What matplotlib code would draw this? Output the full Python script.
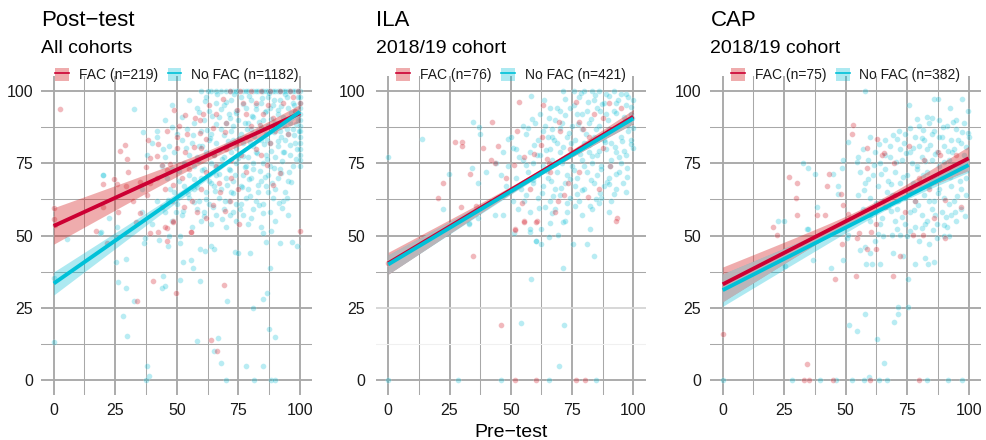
import numpy as np
import matplotlib
matplotlib.use("Agg")
import matplotlib.pyplot as plt
from matplotlib.patches import Patch
from matplotlib.lines import Line2D

plt.rcParams['font.family'] = ['Liberation Sans', 'DejaVu Sans']

# ---------------- data ----------------
panel_titles = ["Post\u2212test", "ILA", "CAP"]
panel_subtitles = ["All cohorts", "2018/19 cohort", "2018/19 cohort"]
fac_labels = ["FAC (n=219)", "FAC (n=76)", "FAC (n=75)"]
nofac_labels = ["No FAC (n=1182)", "No FAC (n=421)", "No FAC (n=382)"]
x_ticks = [0, 25, 50, 75, 100]
y_ticks = [0, 25, 50, 75, 100]

# regression fits: (y at x=0, y at x=100, CI half-width at x=0, min half-width, x of min)
post_fac_fit = (53.3, 92.3, 6.3, 1.6, 70)
post_nofac_fit = (33.4, 92.8, 4.0, 0.6, 78)
ila_fac_fit = (40.4, 91.1, 3.8, 1.0, 62)
ila_nofac_fit = (40.0, 90.5, 3.3, 0.6, 68)
cap_fac_fit = (33.1, 76.7, 6.0, 1.5, 60)
cap_nofac_fit = (31.1, 74.4, 5.6, 0.9, 70)

post_fac_pts = [
    (2.6,93.7),(49,93.4),(53.3,91.7),(57.4,90.5),(60.8,91.9),(59.4,90),(71.6,100),(75.6,100),(91.9,100),
    (84,100),(88,100),(68.9,97.2),(74.3,93.4),(38.4,83),(42.5,81.5),(29,81.3),(26.9,79.2),(29.9,76.5),
    (41.8,77.6),(39.1,76.9),(49.9,84.2),(50.2,80.4),(53.3,79),(57.1,80.5),(60,80.2),(64.8,87.1),(69.6,85.9),
    (59.4,85.4),(62,83.5),(37.5,73.8),(43.8,74.4),(47.2,74.6),(45.8,72.5),(24.5,69.6),(25.8,67.8),(20.2,67.8),
    (29.4,67.2),(35,68.6),(39.1,68),(45.2,66.1),(48.6,67.5),(0,59.6),(0,55.7),(0.5,53.5),(48.6,55),(55.8,51.3),
    (45.9,52.7),(42.5,51.3),(35,57.9),(33.6,54.8),(67.5,65.2),(69.6,58.5),(64.8,60.6),(71.6,61.9),(86.5,74.4),
    (91.9,71.5),(89,67.5),(100,51.7),(89,90.5),(83.6,88.2),(17.2,51.7),(21.8,47.5),(39.1,50.7),(45.3,52.8),
    (45.9,48.2),(48.6,54.8),(55.6,51.1),(75.4,53.9),(40.2,34.3),(49.5,30),(33.9,27.5),(69.1,32.8),(64,13.7),
    (66.4,10),(52,70),(55,73),(58,76),(62,72),(65,78),(66,74),(70,80),(72,76),(74,82),(76,78),(78,84),(80,88),
    (82,80),(85,92),(87,95),(90,86),(93,96),(95,90),(97,98),(99,100),(80,100),(77,96),(63,95),(66,92),(70,89),
    (72,70),(75,66),(78,72),(56,62),(60,66),(53,60),(62,56),(58,58),(48,62),(44,60),(67,68),(84,78),(88,82),
    (95,85),(98,93),(100,96),(96,100),(78,92),(82,96),(54,85),(51,88),(46,86),(32,62),(38,64),(26,58),(30,72),
    (20,60),(42,70)]

post_nofac_pts = [
    (0,13.1),(0,35.2),(5.3,48.7),(18.8,50.9),(25.6,52.8),(25.2,40.7),(26.3,33.8),(29.4,41.8),(29.5,32),
    (28.3,22.1),(29.9,15.3),(32.8,27.5),(36.5,47.3),(37,49),(37.9,5),(38.6,1.3),(37.5,0),(42.9,48.4),(44.5,36),
    (44.1,31.9),(45,32.5),(46.3,46.5),(46.9,50),(51.2,50),(51.4,47.3),(51.2,34.5),(52.3,40.7),(55.6,41.5),
    (56.7,38.7),(58,13.5),(59.3,45.3),(59.6,34.2),(61.3,44.7),(63.9,46.5),(65.1,45.4),(66.9,14.5),(65.1,9.9),
    (67.8,6),(70,0),(70.2,27.5),(73.5,44.2),(75,43.8),(79.6,43.8),(78.2,5),(81.3,0),(81,25),(84.8,28.2),
    (84.9,5),(86.5,30),(87.4,17.5),(88.2,0),(89.8,0),(90,14.9),(86,47.8),(84.9,50.7),(88.2,51.5),(88,38.7),
    (91.8,47.3),(96.9,47.7),(98.7,46.4),(32.7,93.7),(36.4,85.9),(42.1,84.2),(20.2,70.9),(19.1,51.3),
    (60,100),(64,100),(68,100),(70,100),(73,100),(75,100),(77,100),(79,100),(81,100),(83,100),(85,100),(86,100),
    (88,100),(90,100),(91,100),(93,100),(95,100),(96,100),(98,100),(100,100),
    (62.5,100),(66,100),(71.5,100),(74,100),(78,100),(82,100),(84.5,100),(87,100),(89,100),(92,100),(94,100),
    (97,100),(99,100),
    (100,98),(100,96),(100,94),(100,92),(100,90),(100,88),(100,86),(100,84),(100,82),(100,80),(100,78),(100,76),(100,74),
    (55,97),(62,98),(66,96),(72,97),(76,98),(80,97),(84,96),(87,98),(92,97),(94,99),(97,96),(99,98),(89,95),
    (48,95),(58,94),(63,93),(69,95),(74,93),(78,94),(82,95),(86,93),(88,94),(91,92),(95,94),(98,93),(71,92),
    (45,90),(52,91),(57,89),(61,90),(67,91),(70,89),(75,90),(79,89),(81,91),(85,90),(90,89),(93,91),(96,89),(99,90),(87,88),
    (42,86),(50,85),(54,87),(60,86),(64,85),(68,87),(72,86),(76,85),(80,87),(83,86),(86,85),(89,87),(92,86),(95,85),(97,87),
    (40,82),(47,81),(52,83),(56,82),(59,81),(63,83),(66,82),(70,81),(73,83),(77,82),(81,81),(84,83),(88,82),(91,81),(94,83),(98,82),
    (38,78),(45,77),(49,79),(55,78),(58,77),(62,79),(65,78),(69,77),(72,79),(75,78),(79,77),(82,79),(86,78),(90,77),(93,79),(96,78),
    (44,74),(48,73),(53,75),(57,74),(61,73),(64,75),(67,74),(71,73),(74,75),(78,74),(81,73),(85,75),(88,74),(92,73),(97,74),
    (20,71),(46,70),(51,69),(55,71),(60,70),(63,69),(66,71),(70,70),(73,69),(77,71),(80,70),(84,69),(87,71),(91,70),(95,69),
    (36,66),(49,65),(53,67),(57,66),(62,65),(65,67),(68,66),(72,65),(76,67),(79,66),(83,65),(86,67),(90,66),(94,65),
    (42,62),(50,61),(55,63),(59,62),(63,61),(67,63),(71,62),(74,61),(78,63),(82,62),(85,61),(89,63),(93,62),
    (35.7,58.2),(45,58),(52,57),(58,59),(61,58),(66,57),(69,59),(73,58),(77,57),(81,59),(88,58),(95,57),
    (22.6,55.9),(40,54),(48,55),(56,53),(60,55),(64,54),(70,53),(74,55),(79,54),(84,53),(90,55),
    (66.5,98.8),(69.8,96.3),(73.2,99.1),(76.7,95.6),(79.4,98.4),(82.1,93.9),(84.7,97.5),(87.3,99.4),(89.6,96.7),
    (92.4,94.8),(94.8,97.9),(97.6,95.2),(99.3,91.7),
    (64.2,91.2),(67.9,93.8),(71.5,90.6),(74.1,92.4),(77.8,88.9),(80.6,91.5),(83.3,89.2),(85.9,92.8),(88.4,90.3),
    (91.1,93.5),(93.7,88.1),(96.2,92.3),(98.4,88.6),
    (62.3,86.4),(65.8,88.7),(69.1,84.9),(72.7,87.8),(75.4,83.6),(78.3,86.9),(81.2,84.3),(84.1,87.4),(86.8,83.1),
    (89.5,85.8),(92.3,84.1),(94.9,86.9),(97.7,84.6),(99.6,86.2),
    (60.4,80.9),(63.6,83.8),(67.3,79.6),(70.8,82.7),(74.2,80.1),(76.9,77.4),(79.8,82.3),(82.6,78.6),(85.4,81.7),
    (88.1,79.2),(90.9,82.8),(93.4,78.9),(96.1,81.4),(98.9,79.8),
    (58.6,75.8),(61.9,77.9),(65.3,74.1),(68.4,76.5),(71.7,72.6),(74.8,76.9),(77.6,73.8),(80.9,75.2),(83.8,72.4),
    (86.5,76.3),(89.3,73.5),(92.6,75.8),(95.4,72.1),(98.2,76.6),
    (56.8,69.5),(60.2,72.8),(63.7,68.3),(67.1,71.4),(70.3,67.6),(73.6,70.8),(76.4,66.9),(79.2,69.7),(82.9,67.3),
    (85.7,70.2),(88.8,68.1),(92.1,71.6),(96.3,68.4),
    (54.7,64.2),(58.3,66.8),(61.8,62.7),(65.6,65.4),(69.4,61.8),(72.9,64.6),(76.1,60.9),(79.7,63.8),(83.4,60.4),
    (87.2,64.9),(91.6,61.3),(94.7,63.1),
    (52.6,58.6),(57.1,61.5),(60.9,56.8),(64.8,59.7),(68.2,55.6),(71.6,57.2),(75.8,59.3),(80.3,56.1),(85.1,57.8),
    (92.7,59.6),(47.3,66.1),(50.8,72.4),(53.9,80.1),(56.4,84.6),(59.1,92.7),(61.5,96.4),(47.9,87.6),(44.3,79.8),
    (46.4,62.2),(49.6,58.3)]

ila_fac_pts = [
    (53.3,96.3),(63.3,95.2),(76.5,96.3),(69.8,89.4),(70,86),(42.4,89.4),(27.2,82.2),(30.2,82.2),(30.2,81.1),
    (38.8,80.2),(44.9,81.1),(52.7,86.2),(41.9,76.1),(43.5,75),(33.3,71.2),(22.2,68),(20.3,63.1),(29.5,60),
    (35.6,60.3),(51.4,74.4),(54.4,61.1),(55.4,77.3),(59.6,78.1),(62.2,81.3),(51.7,52.1),(60.5,55),(55.4,55),
    (64.6,76.5),(65.5,75),(69.3,61.9),(73.2,68),(71.7,64),(77.8,71.9),(81.6,63.4),(90.5,74.2),(93.2,55.9),
    (87.5,80.2),(87.7,90.5),(62.6,84.2),(77.8,89.4),(79.5,87),(34.7,43),(45.9,18.9),(51.7,51.9),(51.6,0),
    (60.2,0),(76.6,0),(80.4,0),(55.5,54.8),(60.3,54.8),(0,40.4),(92.8,55),(84,92),(90,96),(95,94),(66,72),
    (74,80),(82,84),(58,66),(48,70),(68,58),(86,66)]

ila_nofac_pts = [
    (0,77.3),(13.6,83.3),(34.7,89.2),(37,87.5),(37.6,85),(24.9,71.2),(22.4,59.2),(34.3,73.2),(36.5,68),
    (58.2,98.3),(63.7,96.9),(71.4,100),(75.9,100),(72.1,97.1),(49,83.3),(50.7,80.2),(53.3,77.2),(57.1,87.1),
    (58.5,90.2),(33.1,54.2),(36.7,55.9),(43.5,57.1),(46.9,57.1),(57.8,51.3),(60.3,48.2),(66.7,57.7),(65.7,49.6),
    (71.4,54.8),(76.2,60.3),(82.3,60.2),(86,61.1),(83,59.2),(89.1,68.6),(92.8,71.2),(97.3,70.4),(96.9,65.2),
    (100,80.2),(100,87.1),
    (0,0),(28.3,0),(46.1,0),(65.7,0),(84.6,0),(54.3,19.9),(71.9,18.9),(69.7,5),(58.2,34.9),(71.2,38.9),
    (84.1,43),(81,47.1),(75.4,47.1),(60.2,48),(62.3,47.1),(69.3,50.1),(82.4,52.3),(57.9,52.3),(62.3,52.3),
    (51.3,50.7),(66.1,54.2),(32.9,54),(72.2,55),
    (80,100),(83,100),(86,100),(89,99),(92,100),(95,99),(98,98),(100,97),(78,98),(84,97),(88,96),(93,96),(97,95),
    (62,92),(66,94),(70,93),(74,94),(77,92),(81,93),(85,94),(89,92),(92,93),(96,91),(99,92),(68,90),
    (55,88),(60,89),(64,88),(67,87),(71,89),(75,88),(79,87),(82,89),(86,88),(90,87),(94,88),(98,86),
    (50,84),(56,85),(61,83),(65,84),(69,82),(73,84),(76,83),(80,82),(84,84),(88,83),(91,82),(95,84),(99,83),
    (47,79),(52,80),(58,79),(62,78),(66,80),(70,79),(74,78),(78,80),(82,79),(85,78),(89,80),(93,79),(97,78),
    (44,75),(49,74),(55,76),(59,75),(63,74),(67,76),(71,75),(75,74),(79,76),(83,75),(87,74),(91,76),(95,75),
    (40,72),(46,71),(52,70),(57,72),(61,71),(65,70),(69,72),(73,71),(77,70),(81,72),(85,71),(90,70),(94,72),
    (48,67),(54,66),(59,68),(63,67),(68,66),(72,68),(76,67),(80,66),(84,68),(88,67),(93,66),
    (45,63),(51,62),(56,64),(61,63),(66,62),(70,64),(74,63),(78,62),(87,63),(91,62),
    (53,59),(58,58),(64,60),(68,59),(73,58),(79,57),(90,58),
    (78.6,99.2),(81.4,96.1),(84.3,98.7),(87.1,95.4),(90.2,98.3),(93.6,96.8),(96.8,99.1),(99.2,94.6),
    (65.4,90.8),(68.7,94.2),(72.3,91.6),(75.8,95.3),(79.1,92.1),(82.7,90.4),(86.2,92.9),(89.8,90.1),(93.1,92.4),
    (96.4,89.6),(99.4,90.7),
    (63.1,86.3),(66.8,84.1),(70.2,87.2),(73.9,85.6),(77.4,88.4),(80.8,85.1),(84.6,86.7),(87.9,84.6),(91.7,86.1),
    (95.2,82.7),(97.9,87.9),
    (59.6,81.4),(64.2,79.6),(67.5,82.9),(71.1,80.6),(74.6,81.9),(78.3,78.1),(81.9,81.2),(85.8,79.4),(88.6,82.3),
    (92.4,80.5),(96.1,79.1),(99.1,81.6),
    (56.3,74.4),(60.7,77.8),(64.6,72.3),(68.1,74.8),(72.5,77.1),(75.9,72.6),(79.8,74.2),(83.2,77.6),(86.9,72.9),
    (90.6,74.1),(94.1,77.3),(97.6,73.4),
    (58.9,69.2),(62.8,64.6),(66.4,68.7),(70.6,66.3),(74.3,69.6),(78.9,65.7),(82.6,69.1),(86.3,64.8),(90.1,67.9),
    (95.6,68.2),(55.2,61.8),(61.4,59.4),(67.2,63.8),(72.8,61.2),(77.1,64.3),(84.8,62.7),(92.2,64.5)]

cap_fac_pts = [
    (53.1,88.2),(52.4,85.1),(62.6,83.4),(58.5,80.4),(64.6,77.9),(65.5,78.5),(69.6,75.2),(75.7,81.1),(58.5,73.2),
    (27.1,70.1),(30.1,68),(29.7,63.1),(30.1,57.1),(42.5,67.2),(43.4,71.2),(48.1,64.2),(49,60.5),(20.3,53.1),
    (21.9,50.1),(38.5,57.1),(41.6,57.1),(51.1,57.3),(90.4,62.2),(96.7,60),(87.7,79),(88.5,77.8),(0,15.9),
    (34.4,5.7),(33,0),(35.2,0),(44.7,0),(60,0),(79.9,0),(45.6,34.9),(54,36.1),(48.6,47.1),(54.6,49),(55.5,51),
    (60.3,51.1),(62.4,54),(62.4,45.4),(58.6,45.4),(69.4,36.1),(72,43),(81.6,50.1),(90.4,49),(77.4,50.1),
    (80,70),(84,66),(92,73),(95,78),(70,64),(74,58),(66,60),(86,56),(78,62),(82,76)]

cap_nofac_pts = [
    (0,0),(28.2,0),(39.6,0),(46,0),(52.7,0),(57.5,0),(59.5,1),(63.6,0),(66.7,0),(83,0),(91.4,0),(97.2,0),
    (65.4,5.8),(62.6,14.1),(54.6,17),(51.2,19),(57.9,23),(69.8,20),(71.2,23),(71.2,25.2),(75.4,25.2),
    (75.3,34.9),(69.3,44.1),(73.1,43),(78.2,40.1),(83.3,40),(86,41),(82.2,42.1),(36.7,41.5),(43.9,38.7),
    (49,41.5),(58.4,40.1),(60.8,40.1),(63.8,40.1),(25.5,39.4),(34.4,52.2),(24.9,55),(50.6,49),(51.1,50.1),
    (68.8,50.1),(72,50.1),(75,50),(80,48),(84,47),(87,49),(90,50),(92,50),(65,50),(62,48),(58,46),(60,44),(56,45),
    (57.9,100),(75.6,95.2),(85.9,97.2),(87.5,97.2),(97.2,97.2),(32.5,75),(34.6,73.2),(37.5,71.2),(44.7,71.2),
    (48.4,73.2),(49.1,76.1),(51.1,82.5),(54.5,75.3),(71.8,86.2),(70.7,83.4),(78.9,90.3),(82.9,91.1),(92.4,94),
    (99.9,93.1),(99.9,85.4),(95,90),(22.6,55),(34.5,52.2),(38.5,60),(47,67.2),(47,64.3),
    (80,88),(84,89),(88,90),(91,88),(95,87),(98,89),(86,86),
    (60,84),(66,83),(74,85),(78,84),(82,83),(85,85),(89,84),(93,83),(97,82),(100,84),
    (57,80),(62,79),(68,81),(72,80),(76,79),(80,81),(83,80),(87,79),(90,81),(94,80),(98,78),
    (55,77),(59,76),(64,75),(68,77),(73,76),(77,75),(81,77),(85,76),(88,74),(92,76),(96,75),
    (56,72),(61,71),(66,73),(70,72),(75,71),(79,73),(83,72),(86,70),(91,71),(95,72),(99,70),
    (58,68),(63,67),(67,69),(72,68),(76,66),(80,68),(84,67),(88,66),(93,67),(97,66),
    (55,64),(60,63),(65,62),(69,64),(74,63),(78,62),(82,64),(86,62),(90,63),(94,62),(99,64),
    (57,59),(62,58),(67,60),(71,59),(76,58),(81,57),(85,59),(89,58),(93,57),(97,59),
    (60,55),(64,54),(70,55),(74,54),(78,53),(83,55),(87,54),(91,53),(95,55),
    (76.3,87.1),(81.6,86.4),(85.2,90.8),(89.4,87.6),(93.8,89.4),(97.1,85.8),
    (63.4,81.6),(69.2,84.7),(73.6,82.1),(77.2,80.4),(80.9,83.6),(84.4,81.2),(87.8,83.9),(91.6,79.4),(95.8,82.9),
    (99.1,80.6),(61.7,74.3),(66.1,77.8),(70.4,75.4),(74.7,78.6),(78.8,74.2),(82.3,75.9),(86.4,78.2),(89.9,75.3),
    (93.2,78.8),(97.4,73.8),(59.2,69.6),(64.3,71.4),(68.6,67.7),(73.1,70.3),(77.4,68.2),(81.6,70.8),(85.1,68.4),
    (89.2,69.9),(92.6,70.4),(96.3,68.7),(57.6,65.8),(62.2,61.4),(66.9,64.9),(71.3,61.8),(75.6,64.4),(79.5,60.4),
    (83.7,62.1),(87.6,64.6),(91.8,60.8),(95.1,63.5),(59.8,57.2),(64.6,55.9),(68.4,58.4),(72.7,56.3),(77.9,58.8),
    (82.1,54.1),(86.2,57.1),(90.6,56.4),(94.5,58.2),(98.6,56.7),(63.2,50.6),(70.8,52.4),(76.2,51.6),(81.2,52.7),
    (85.6,51.9),(89.8,53.6)]

# ---------------- styling ----------------
RED_LINE = "#CC0033"
RED_PT = "#D7303C"
RED_FILL = "#D62728"
CYAN_LINE = "#00C1D8"
CYAN_PT = "#00BCD4"
CYAN_FILL = "#00BCD4"
OVERLAP = "#BDB6BA"
GRID = "#A8A8A8"

fig = plt.figure(figsize=(9.87, 4.4), dpi=100)
W, H = 987.0, 440.0
panel_px = [(41.4, 312.3), (376.0, 645.6), (710.4, 981.0)]
ytick_pad = [6.0, 8.0, 6.5]
bottom_px, top_px = 394.5, 76.5

panels = [
    (post_fac_pts, post_nofac_pts, post_fac_fit, post_nofac_fit),
    (ila_fac_pts, ila_nofac_pts, ila_fac_fit, ila_nofac_fit),
    (cap_fac_pts, cap_nofac_pts, cap_fac_fit, cap_nofac_fit),
]

xs = np.linspace(0, 100, 201)

def fit_curve(fit):
    y0, y100, hw0, hwmin, xm = fit
    yhat = y0 + (y100 - y0) * xs / 100.0
    b = (hw0 ** 2 - hwmin ** 2) / xm ** 2
    hw = np.sqrt(hwmin ** 2 + b * (xs - xm) ** 2)
    return yhat, hw

for i, (fac, nofac, ffit, nfit) in enumerate(panels):
    l, r = panel_px[i]
    ax = fig.add_axes([l / W, 1 - bottom_px / H, (r - l) / W, (bottom_px - top_px) / H])
    ax.set_xlim(-5, 105)
    ax.set_ylim(-5, 105)
    for s in ax.spines.values():
        s.set_visible(False)
    # grid
    for t in x_ticks:
        ax.axvline(t, color=GRID, lw=1.35, zorder=0)
    for t in [12.5, 37.5, 62.5, 87.5]:
        ax.axvline(t, color=GRID, lw=0.75, zorder=0)
    for t in y_ticks:
        c = GRID
        if i == 1 and t == 25:
            c = "#D6D6D6"
        ax.axhline(t, color=c, lw=1.35, zorder=0)
    for t in [12.5, 37.5, 62.5, 87.5]:
        c = GRID
        if i == 1 and t == 12.5:
            c = "#F0F0F0"
        ax.axhline(t, color=c, lw=0.75, zorder=0)
    ax.set_xticks(x_ticks)
    ax.set_yticks(y_ticks)
    ax.set_xticklabels([str(v) for v in x_ticks])
    ax.set_yticklabels([str(v) for v in y_ticks])
    ax.tick_params(axis='both', length=0, labelsize=11.5, colors='#1a1a1a')
    ax.tick_params(axis='x', pad=6)
    ax.tick_params(axis='y', pad=ytick_pad[i])

    fx, fy = zip(*fac)
    nx, ny = zip(*nofac)
    ax.scatter(nx, ny, s=17, color=CYAN_PT, alpha=0.28, edgecolors='white', linewidths=0.4, zorder=2)
    ax.scatter(fx, fy, s=17, color=RED_PT, alpha=0.34, edgecolors='white', linewidths=0.4, zorder=2)

    fyh, fhw = fit_curve(ffit)
    nyh, nhw = fit_curve(nfit)
    ax.fill_between(xs, fyh - fhw, fyh + fhw, color=RED_FILL, alpha=0.38, lw=0, zorder=3)
    ax.fill_between(xs, nyh - nhw, nyh + nhw, color=CYAN_FILL, alpha=0.32, lw=0, zorder=3)
    lo = np.maximum(fyh - fhw, nyh - nhw)
    hi = np.minimum(fyh + fhw, nyh + nhw)
    ax.fill_between(xs, lo, hi, where=hi > lo, color=OVERLAP, alpha=0.9, lw=0, zorder=3.5)
    ax.plot(xs, fyh, color=RED_LINE, lw=2.8, zorder=4, solid_capstyle='butt')
    ax.plot(xs, nyh, color=CYAN_LINE, lw=2.8, zorder=4, solid_capstyle='butt')

    h_fac = (Patch(facecolor=RED_FILL, alpha=0.38, lw=0), Line2D([], [], color=RED_LINE, lw=1.2))
    h_nofac = (Patch(facecolor=CYAN_FILL, alpha=0.32, lw=0), Line2D([], [], color=CYAN_LINE, lw=1.2))
    ax.legend([h_fac, h_nofac], [fac_labels[i], nofac_labels[i]], ncol=2, loc='center',
              bbox_to_anchor=(0.5, 1.005), frameon=False, fontsize=10, handlelength=1.0,
              handleheight=1.1, handletextpad=0.7, columnspacing=0.7, borderpad=0,
              borderaxespad=0, labelcolor='#1a1a1a')

    fig.text(l / W, 1 - 26 / H, panel_titles[i], fontsize=16, va='baseline', ha='left', color='black')
    fig.text(l / W, 1 - 53.3 / H, panel_subtitles[i], fontsize=14, va='baseline', ha='left', color='black')

fig.text(511 / W, 1 - 437 / H, "Pre\u2212test", fontsize=14, ha='center', va='baseline', color='black')

fig.savefig("out.png", dpi=100, facecolor='white')
